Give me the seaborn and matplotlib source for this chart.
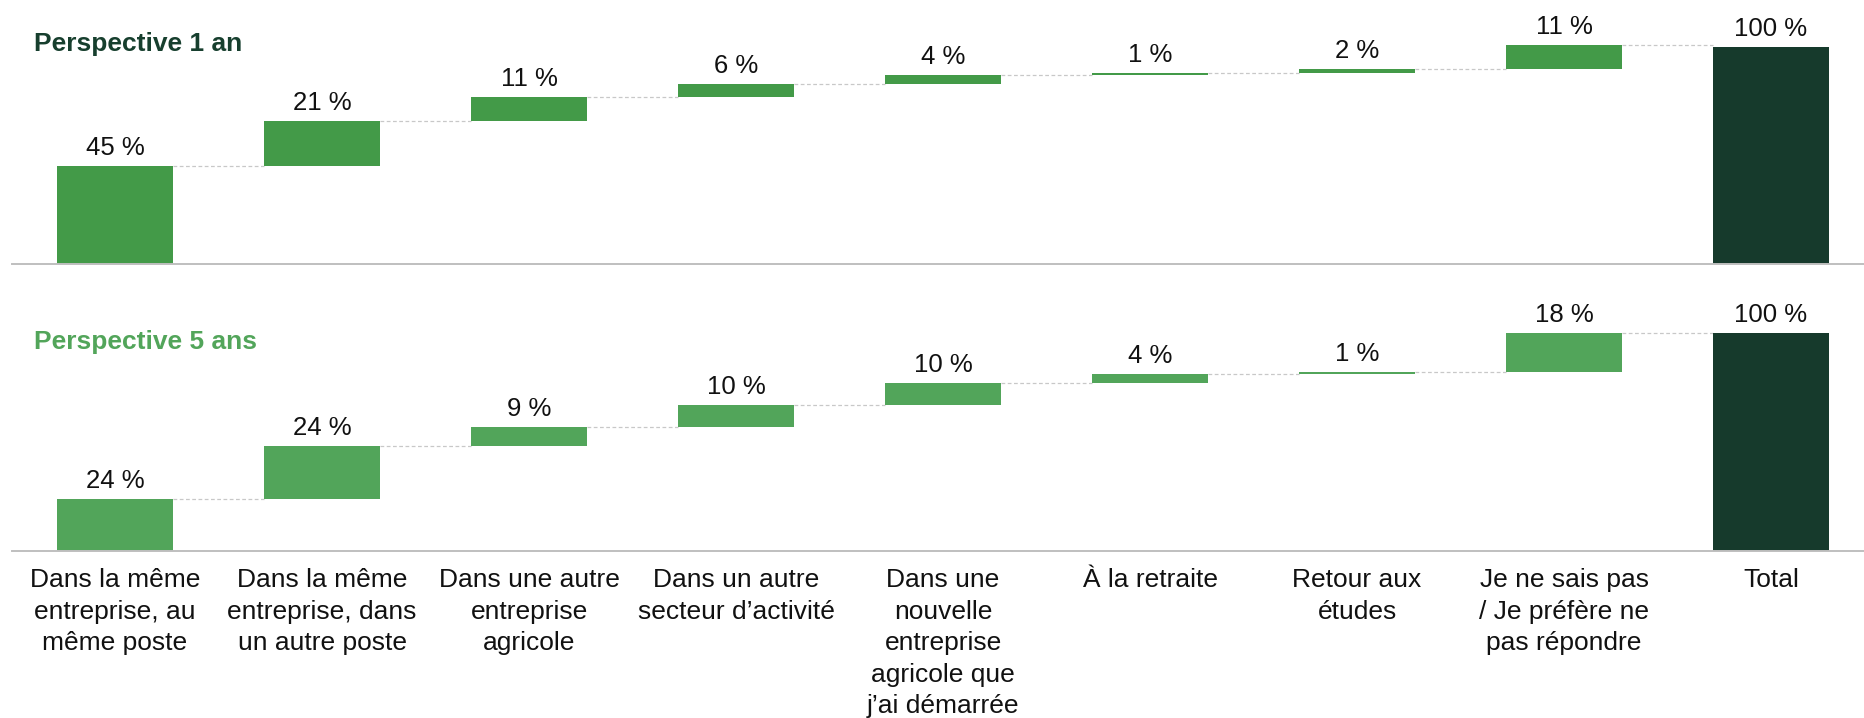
import numpy as np
import pandas as pd
import matplotlib
matplotlib.use("Agg")
import matplotlib.pyplot as plt
import seaborn as sns

# Categories (x axis) and the share for each outlook
categories = [
    "Dans la même\nentreprise, au\nmême poste",
    "Dans la même\nentreprise, dans\nun autre poste",
    "Dans une autre\nentreprise\nagricole",
    "Dans un autre\nsecteur d’activité",
    "Dans une\nnouvelle\nentreprise\nagricole que\nj’ai démarrée",
    "À la retraite",
    "Retour aux\nétudes",
    "Je ne sais pas\n/ Je préfère ne\npas répondre",
    "Total",
]
values_1an = [45, 21, 11, 6, 4, 1, 2, 11]
values_5ans = [24, 24, 9, 10, 10, 4, 1, 18]
total = 100
panel_titles = ["Perspective 1 an", "Perspective 5 ans"]

GREEN_1 = "#439A48"
GREEN_5 = "#52A55A"
DARK = "#163A2C"
GRID = "#C8C8C8"

sns.set_theme(style="white")
plt.rcParams["font.family"] = ["Liberation Sans", "DejaVu Sans"]

W, H = 1864, 718
fig = plt.figure(figsize=(W / 100, H / 100), dpi=100)

# panel geometry in pixels: (axes top, baseline, pixels per 1 %)
panels = [
    dict(top=0, base=264, ppu=2.17, vals=values_1an, color=GREEN_1,
         title=panel_titles[0], tcolor="#173F2E", tbase=51),
    dict(top=289, base=551, ppu=2.18, vals=values_5ans, color=GREEN_5,
         title=panel_titles[1], tcolor=GREEN_5, tbase=349),
]

bar_w = 0.565
x_left_px, x0_px, step_px = 12, 115, 207
xlim = ((x_left_px - x0_px) / step_px, (W - x0_px) / step_px)

for k, p in enumerate(panels):
    ax = fig.add_axes([x_left_px / W, 1 - p["base"] / H,
                       1 - x_left_px / W, (p["base"] - p["top"]) / H])
    vals = list(p["vals"]) + [total]
    starts = list(np.concatenate([[0], np.cumsum(p["vals"])[:-1]])) + [0]
    df = pd.DataFrame({"cat": categories, "val": vals})
    sns.barplot(data=df, x="cat", y="val", order=categories, ax=ax,
                color=p["color"], width=bar_w, bottom=starts,
                saturation=1, errorbar=None)
    for patch in ax.patches:
        patch.set_facecolor(p["color"])
        patch.set_edgecolor("none")
    ax.patches[-1].set_facecolor(DARK)

    # value labels and dashed connectors
    tops = [s + v for s, v in zip(starts, vals)]
    for i, (t, v) in enumerate(zip(tops, vals)):
        ax.annotate(f"{v} %", xy=(i, t), xytext=(0, 8),
                    textcoords="offset points", ha="center", va="baseline",
                    fontsize=18.5, color="#111111")
        if i < len(vals) - 1:
            ax.hlines(t, i + bar_w / 2, i + 1 - bar_w / 2, colors=GRID,
                      linestyles=(0, (3, 2)), linewidth=0.9, zorder=0)

    ax.set_xlim(*xlim)
    ax.set_ylim(0, (p["base"] - p["top"]) / p["ppu"])
    ax.set_xlabel("")
    ax.set_ylabel("")
    ax.set_yticks([])
    for s in ["top", "right", "left"]:
        ax.spines[s].set_visible(False)
    ax.spines["bottom"].set_color("#BFBFBF")
    ax.spines["bottom"].set_linewidth(1.4)
    ax.tick_params(axis="x", length=0, pad=12.5, labelsize=19, colors="#111111")
    if k == 0:
        ax.set_xticklabels([])
    else:
        for lab in ax.get_xticklabels():
            lab.set_linespacing(1.39)

    fig.text(34 / W, 1 - p["tbase"] / H, p["title"], fontsize=19,
             fontweight="bold", color=p["tcolor"], ha="left", va="baseline")

fig.savefig("out.png", dpi=100, facecolor="white")
